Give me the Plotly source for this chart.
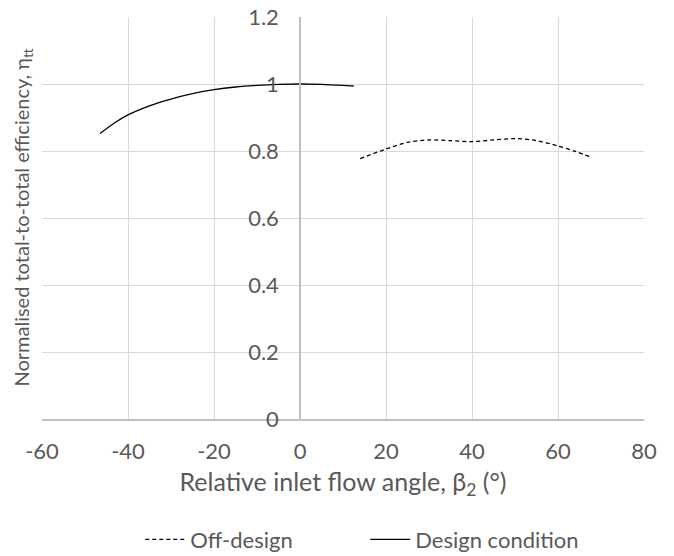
import plotly.graph_objects as go

# Relative inlet flow angle (deg) and normalised efficiency
design_angle = [-46.5, -43, -40, -35, -30, -25, -20, -15, -10, -5, 0, 5, 10, 12.5]
design_eff = [0.852, 0.885, 0.908, 0.935, 0.955, 0.971, 0.983, 0.991, 0.996, 0.999, 1.0, 0.999, 0.996, 0.994]

offdesign_angle = [14, 20, 25, 30, 35, 40, 45, 50, 55, 60, 64, 68]
offdesign_eff = [0.777, 0.806, 0.826, 0.833, 0.831, 0.828, 0.833, 0.837, 0.831, 0.815, 0.799, 0.780]

x_ticks = [-60, -40, -20, 0, 20, 40, 60, 80]
y_ticks = [0, 0.2, 0.4, 0.6, 0.8, 1, 1.2]

FONT = "Lato"
GREY = "#595959"

fig = go.Figure()
fig.add_trace(go.Scatter(
    x=offdesign_angle, y=offdesign_eff, mode="lines", name="Off-design",
    line=dict(color="black", width=1.3, dash="4px,3px", shape="spline", smoothing=0.8),
))
fig.add_trace(go.Scatter(
    x=design_angle, y=design_eff, mode="lines", name="Design condition",
    line=dict(color="black", width=1.3, shape="spline", smoothing=0.8),
))

xmin, xmax = -60, 80
fig.update_layout(
    width=674, height=556,
    margin=dict(l=42, r=30, t=17, b=137, autoexpand=False),
    paper_bgcolor="white", plot_bgcolor="white",
    font=dict(family=FONT, color=GREY),
    showlegend=True,
    legend=dict(
        orientation="h", x=0.537, xanchor="center", y=-0.30, yanchor="middle",
        font=dict(family=FONT, size=22, color=GREY),
        entrywidth=170, entrywidthmode="pixels", itemwidth=40,
    ),
    xaxis=dict(
        range=[xmin, xmax], tickvals=x_ticks, ticktext=[str(v) for v in x_ticks],
        showgrid=True, gridcolor="#d9d9d9", gridwidth=1.3,
        zeroline=False, showline=True, linecolor="#bfbfbf", linewidth=1.5,
        ticks="", ticklabelstandoff=12, automargin=False,
        tickfont=dict(family=FONT, size=22, color=GREY),
        title=dict(text="Relative inlet flow angle, β<sub>2</sub> (°)",
                   font=dict(family=FONT, size=25, color=GREY), standoff=10),
    ),
    yaxis=dict(
        range=[0, 1.2], tickvals=y_ticks, ticktext=[f"{v:g}" for v in y_ticks],
        anchor="free", position=(0 - xmin) / (xmax - xmin),
        showgrid=True, gridcolor="#d9d9d9", gridwidth=1.3,
        zeroline=False, showline=True, linecolor="#bfbfbf", linewidth=1.5,
        ticks="", ticklabelstandoff=16, automargin=False,
        tickfont=dict(family=FONT, size=22, color=GREY),
    ),
    annotations=[dict(
        text="Normalised total-to-total efficiency, η<sub>tt</sub>",
        xref="paper", yref="paper", x=-0.034, y=0.5,
        xanchor="center", yanchor="middle", textangle=-90, showarrow=False,
        font=dict(family=FONT, size=20, color=GREY),
    )],
)

fig.write_html("out.html")
